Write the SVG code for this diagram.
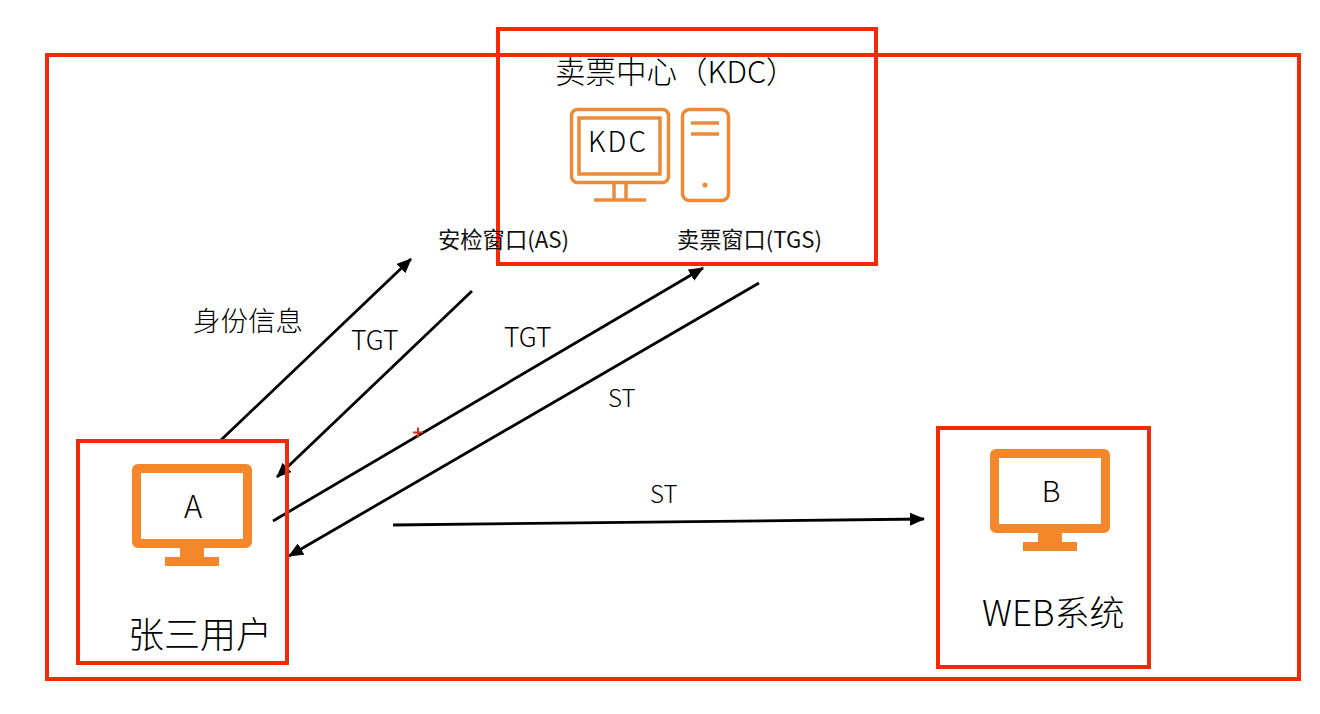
<svg xmlns="http://www.w3.org/2000/svg" width="1320" height="714" viewBox="0 0 1320 714">
<style>
text{font-family:"Noto Sans CJK SC","Noto Sans",sans-serif;fill:#000;font-weight:300}
.sm{font-weight:400;fill:#111}
.box{fill:none;stroke:#f42a06;stroke-width:4}
.l{fill:none;stroke:#000;stroke-width:2.800}
.mon{fill:#f5872b}
.thin{fill:none;stroke:#ec8a37;stroke-width:3.500}
</style>
<defs>
<marker id="arr" markerUnits="userSpaceOnUse" markerWidth="15" markerHeight="13" refX="14" refY="6.500" orient="auto"><path d="M0 0L15 6.500L0 13Z" fill="#000"/></marker>
</defs>
<rect width="1320" height="714" fill="#fff"/>
<rect class="box" x="47" y="55" width="1252" height="624"/>
<g id="connectors">
<path class="l" marker-end="url(#arr)" d="M221 440L411 259"/>
<path class="l" marker-end="url(#arr)" d="M472 291L277 477"/>
<path class="l" marker-end="url(#arr)" d="M273 521L703 268"/>
<path class="l" marker-end="url(#arr)" d="M759 283L289 556"/>
<path class="l" marker-end="url(#arr)" d="M393 525L924 519"/>
</g>
<g id="kdc">
<rect class="box" x="498" y="29" width="378" height="235"/>
<text x="555" y="83" font-size="30.500">卖票中心（KDC）</text>
<rect class="thin" x="571.500" y="109.500" width="97" height="73" rx="6"/>
<rect class="thin" x="579" y="118" width="81" height="56"/>
<path class="thin" d="M614 183V201M626 183V201M594 200H646"/>
<rect class="thin" x="682.500" y="109.500" width="46" height="91" rx="7"/>
<path class="thin" d="M691 123H719M691 134H719"/>
<circle cx="705" cy="185" r="2.500" fill="#ec8a37"/>
<text x="617" y="152" font-size="28" text-anchor="middle" textLength="58">KDC</text>
</g>
<g id="as"><text class="sm" x="438" y="248" font-size="22.300">安检窗口(AS)</text></g>
<g id="tgs"><text class="sm" x="677" y="248" font-size="22.200">卖票窗口(TGS)</text></g>
<g id="labels">
<text x="193" y="331" font-size="27.500">身份信息</text>
<text x="351" y="350" font-size="26.500">TGT</text>
<text x="504" y="347" font-size="26.500">TGT</text>
<text x="608" y="407" font-size="24">ST</text>
<text x="650" y="503" font-size="24">ST</text>
<path d="M413 432.500H423M418 427.500V437.500" fill="none" stroke="#d8321c" stroke-width="2"/>
</g>
<g id="user-a">
<rect class="box" x="78" y="441" width="209" height="222"/>
<path class="mon" fill-rule="evenodd" d="M138 464H246a6 6 0 0 1 6 6V542a6 6 0 0 1-6 6H204V557H219V566H165V557H180V548H138a6 6 0 0 1-6-6V470a6 6 0 0 1 6-6ZM141 473V539H243V473Z"/>
<text x="193" y="518" font-size="31" text-anchor="middle">A</text>
<text x="128" y="648" font-size="36">张三用户</text>
</g>
<g id="web-b">
<rect class="box" x="938" y="428" width="211" height="239"/>
<path class="mon" fill-rule="evenodd" d="M996 449H1104a6 6 0 0 1 6 6V527a6 6 0 0 1-6 6H1062V542H1077V551H1023V542H1038V533H996a6 6 0 0 1-6-6V455a6 6 0 0 1 6-6ZM999 458V524H1101V458Z"/>
<text x="1051" y="502" font-size="29" text-anchor="middle">B</text>
<text x="982" y="626" font-size="35">WEB系统</text>
</g>
</svg>
